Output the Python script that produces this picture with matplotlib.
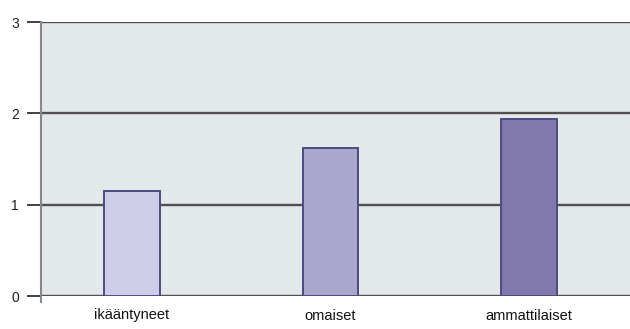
import numpy as np
import matplotlib.pyplot as plt

categories = ["ikääntyneet", "omaiset", "ammattilaiset"]
values = [1.15, 1.62, 1.94]
bar_colors = ["#cdcde8", "#a9a7cc", "#8179ab"]
yticks = [0, 1, 2, 3]

plt.rcParams['font.family'] = ['Liberation Sans', 'DejaVu Sans']

fig = plt.figure(figsize=(6.3, 3.29), dpi=100)
ax = fig.add_axes([41 / 630, 1 - 296 / 329, 589 / 630, 274 / 329])
ax.set_facecolor("#e3e8ea")

x = np.arange(len(categories))
for yv in yticks:
    ax.axhline(yv, color="#505050", linewidth=1.7, zorder=1)
ax.bar(x, values, width=0.28, color=bar_colors, edgecolor="#4b4b82",
       linewidth=1.4, zorder=2)

ax.set_xlim(-0.458, 2.509)
ax.set_ylim(0, 3)
ax.set_yticks(yticks)
ax.set_yticklabels([str(v) for v in yticks], fontsize=10, color="#222222")
ax.set_xticks(x)
ax.set_xticklabels(categories, fontsize=10.5, color="#111111")
ax.tick_params(axis="x", length=0, pad=9)
ax.tick_params(axis="y", length=10, width=1.3, color="#333333", pad=6)

for side in ["top", "right", "bottom"]:
    ax.spines[side].set_visible(False)
ax.spines["left"].set_color("#888888")
ax.spines["left"].set_linewidth(1.5)
ax.spines["left"].set_bounds(-0.07, 3)

fig.savefig("out.png", dpi=100)
